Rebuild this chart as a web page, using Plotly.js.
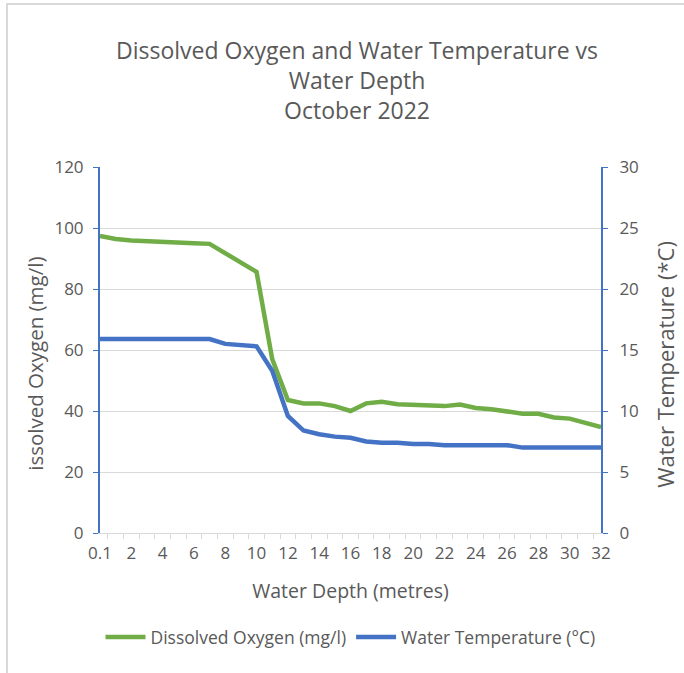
<!DOCTYPE html>
<html>
<head>
<meta charset="utf-8">
<script src="https://cdn.plot.ly/plotly-3.0.1.min.js"></script>
<style>
  body { margin: 0; background: #ffffff; }
  #wrap { position: relative; width: 684px; height: 673px; overflow: hidden; }
  #chart { position: absolute; left: 0; top: 0; width: 684px; height: 673px; }
  #frame { position: absolute; left: 6px; top: 3px; width: 700px; height: 700px;
           border-top: 2px solid #d9d9d9; border-left: 2px solid #d9d9d9; pointer-events: none; }
</style>
</head>
<body>
<div id="wrap">
  <div id="chart"></div>
  <div id="frame"></div>
</div>
<script>
const depths = ["0.1","1","2","3","4","5","6","7","8","9","10","11","12","13","14","15","16",
                "17","18","19","20","21","22","23","24","25","26","27","28","29","30","31","32"];
const dissolvedOxygen = [97.4, 96.4, 95.9, 95.6, 95.6, 95.3, 95.0, 94.8, 91.8, 88.7, 85.6, 57.0, 43.6,
                         42.5, 42.5, 41.6, 40.0, 42.5, 43.0, 42.2, 41.9, 41.6, 41.6, 42.1, 41.0,
                         40.6, 39.9, 39.1, 39.1, 37.9, 37.5, 36.2, 34.7];
const waterTemp = [15.9, 15.9, 15.9, 15.9, 15.9, 15.9, 15.9, 15.9, 15.5, 15.4, 15.3, 13.3, 9.6,
                   8.4, 8.1, 7.9, 7.8, 7.5, 7.4, 7.4, 7.3, 7.3, 7.2, 7.2, 7.2,
                   7.2, 7.2, 7.0, 7.0, 7.0, 7.0, 7.0, 7.0];
const xTickText = depths.map((d, i) => (i % 2 === 0 ? d : ""));
const leftTitle = "issolved Oxygen (mg/l)";
const rightTitle = "Water Temperature (*C)";

const FONT = "Open Sans, Noto Sans, sans-serif";
const GREY = "#595959";

const traces = [
  { x: depths, y: dissolvedOxygen, type: "scatter", mode: "lines", name: "Dissolved Oxygen (mg/l)",
    line: { color: "#70AD47", width: 4.5 }, yaxis: "y" },
  { x: depths, y: waterTemp, type: "scatter", mode: "lines", name: "Water Temperature (°C)",
    line: { color: "#4472C4", width: 4.5 }, yaxis: "y2" }
];

const layout = {
  width: 684, height: 673,
  margin: { l: 100, r: 83, t: 167, b: 140 },
  paper_bgcolor: "#ffffff", plot_bgcolor: "#ffffff",
  font: { family: FONT, color: GREY, size: 17 },
  title: {
    text: "Dissolved Oxygen and Water Temperature vs<br>Water Depth<br>October 2022",
    font: { family: FONT, size: 23, color: GREY },
    x: 0.522, xanchor: "center", xref: "container",
    y: 0.912, yanchor: "top", yref: "container"
  },
  xaxis: {
    type: "category",
    tickmode: "array", tickvals: depths, ticktext: xTickText, tickangle: 0,
    tickson: "boundaries", ticks: "outside", ticklen: 5, tickcolor: "#d9d9d9", ticklabelstandoff: 5,
    showline: true, linecolor: "#d9d9d9", linewidth: 1,
    showgrid: false, zeroline: false,
    tickfont: { family: FONT, size: 17, color: GREY },
    title: { text: "Water Depth (metres)", font: { family: FONT, size: 19.5, color: GREY }, standoff: 20 },
    automargin: false,
    fixedrange: true
  },
  yaxis: {
    range: [0, 120], dtick: 20, tick0: 0,
    showline: true, linecolor: "#4472C4", linewidth: 2,
    ticks: "outside", ticklen: 5, tickcolor: "#4472C4", ticklabelstandoff: 6,
    showgrid: true, gridcolor: "#d9d9d9", gridwidth: 1, zeroline: false,
    tickfont: { family: FONT, size: 17, color: GREY },
    automargin: false,
    fixedrange: true
  },
  yaxis2: {
    range: [0, 30], dtick: 5, tick0: 0,
    overlaying: "y", side: "right",
    showline: true, linecolor: "#4472C4", linewidth: 2,
    ticks: "outside", ticklen: 5, tickcolor: "#4472C4", ticklabelstandoff: 8,
    showgrid: false, zeroline: false,
    tickfont: { family: FONT, size: 17, color: GREY },
    automargin: false,
    fixedrange: true
  },
  annotations: [
    { text: leftTitle, xref: "paper", yref: "paper", x: -0.13, y: 0.462,
      xanchor: "center", yanchor: "middle", textangle: -90, showarrow: false,
      font: { family: FONT, size: 20.5, color: GREY } },
    { text: rightTitle, xref: "paper", yref: "paper", x: 1.128, y: 0.46,
      xanchor: "center", yanchor: "middle", textangle: -90, showarrow: false,
      font: { family: FONT, size: 22, color: GREY } }
  ],
  showlegend: true,
  legend: {
    orientation: "h", x: 0.5, xanchor: "center", y: -0.235, yanchor: "top",
    font: { family: FONT, size: 17.5, color: GREY },
    itemwidth: 40, traceorder: "normal", bgcolor: "rgba(0,0,0,0)"
  }
};

Plotly.newPlot("chart", traces, layout, { displayModeBar: false, staticPlot: true });
</script>
</body>
</html>
